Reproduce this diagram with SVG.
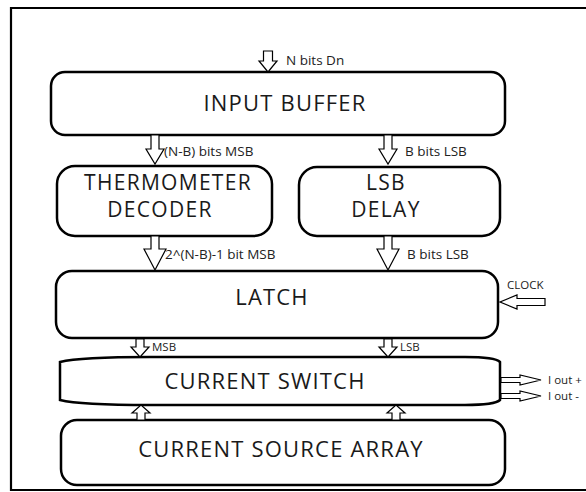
<svg xmlns="http://www.w3.org/2000/svg" width="586" height="492" viewBox="0 0 586 492">
  <style>
    .box { fill: #ffffff; stroke: #000000; stroke-width: 2.5; }
    .frame { fill: none; stroke: #000000; stroke-width: 2.2; }
    .title { font-family: "Open Sans", "DejaVu Sans", sans-serif; font-size: 22px; letter-spacing: 1.2px; fill: #1a1a1a; text-anchor: middle; }
    .two { font-size: 21px; letter-spacing: 1.3px; }
    .lbl { font-family: "Open Sans", "DejaVu Sans", sans-serif; font-size: 13.5px; fill: #222222; }
    .tiny { font-family: "Open Sans", "DejaVu Sans", sans-serif; font-size: 11.5px; fill: #222222; }
    .arrow { fill: #ffffff; stroke: #000000; stroke-width: 1.2; stroke-linejoin: miter; }
  </style>

  <rect width="586" height="492" fill="#ffffff"/>

  <!-- outer border, open on the right -->
  <path class="frame" d="M586,8 L11,8 L11,490 L586,490"/>

  <g id="input-buffer">
    <rect class="box" x="51" y="72" width="454" height="63" rx="14"/>
    <text class="title" x="285" y="111">INPUT BUFFER</text>
  </g>

  <g id="thermometer-decoder">
    <rect class="box" x="57" y="166" width="215" height="70" rx="18"/>
    <text class="title two" x="168" y="190">THERMOMETER</text>
    <text class="title two" x="160" y="217">DECODER</text>
  </g>

  <g id="lsb-delay">
    <rect class="box" x="299" y="167" width="201" height="69" rx="18"/>
    <text class="title two" x="386" y="190">LSB</text>
    <text class="title two" x="386" y="217">DELAY</text>
  </g>

  <g id="latch">
    <rect class="box" x="56" y="271" width="442" height="67" rx="16"/>
    <text class="title" x="272" y="305">LATCH</text>
  </g>

  <g id="current-switch">
    <path class="box" d="M60,362 Q80,357 150,357 L465,357 Q495,357 500,362 L500,400 Q495,405 465,405 L150,405 Q80,405 60,400 Z"/>
    <text class="title" x="265" y="389">CURRENT SWITCH</text>
  </g>

  <g id="current-source-array">
    <rect class="box" x="61" y="420" width="444" height="65" rx="16"/>
    <text class="title" x="281" y="457">CURRENT SOURCE ARRAY</text>
  </g>

  <g id="connectors">
    <!-- data input -->
    <path class="arrow" d="M263.5,51 L272.5,51 L272.5,61 L277,61 L268,72 L259,61 L263.5,61 Z"/>
    <text class="lbl" x="286" y="65">N bits Dn</text>

    <!-- input buffer to decoder / delay -->
    <path class="arrow" d="M151,135 L159,135 L159,149 L164,149 L155,164 L146,149 L151,149 Z"/>
    <text class="lbl" x="164" y="156">(N-B) bits MSB</text>
    <path class="arrow" d="M384,135 L392,135 L392,149 L397,149 L388,164 L379,149 L384,149 Z"/>
    <text class="lbl" x="405" y="156">B bits LSB</text>

    <!-- decoder / delay to latch -->
    <path class="arrow" d="M151,236 L159,236 L159,249 L166,249 L155,270 L144,249 L151,249 Z"/>
    <text class="lbl" x="165" y="259">2^(N-B)-1 bit MSB</text>
    <path class="arrow" d="M384,236 L392,236 L392,249 L399,249 L388,270 L377,249 L384,249 Z"/>
    <text class="lbl" x="407" y="259">B bits LSB</text>

    <!-- clock input -->
    <path class="arrow" d="M545,298.5 L517,298.5 L517,295 L500,302 L517,309 L517,305.5 L545,305.5 Z"/>
    <text class="tiny" x="507" y="289">CLOCK</text>

    <!-- latch to current switch -->
    <path class="arrow" d="M136,339 L144,339 L144,347 L149,347 L140,357 L131,347 L136,347 Z"/>
    <text class="tiny" x="152" y="351">MSB</text>
    <path class="arrow" d="M384,339 L392,339 L392,347 L397,347 L388,357 L379,347 L384,347 Z"/>
    <text class="tiny" x="400" y="351">LSB</text>

    <!-- current source array to switch -->
    <path class="arrow" d="M137,420 L145,420 L145,413 L150,413 L141,405 L132,413 L137,413 Z"/>
    <path class="arrow" d="M392,420 L400,420 L400,413 L405,413 L396,405 L387,413 L392,413 Z"/>

    <!-- differential outputs -->
    <path class="arrow" d="M501,377.5 L520,377.5 L520,375 L541,380 L520,385 L520,382.5 L501,382.5 Z"/>
    <text class="tiny" x="548" y="384">I out +</text>
    <path class="arrow" d="M501,393.5 L520,393.5 L520,391 L541,396 L520,401 L520,398.5 L501,398.5 Z"/>
    <text class="tiny" x="548" y="400">I out -</text>
  </g>
</svg>
